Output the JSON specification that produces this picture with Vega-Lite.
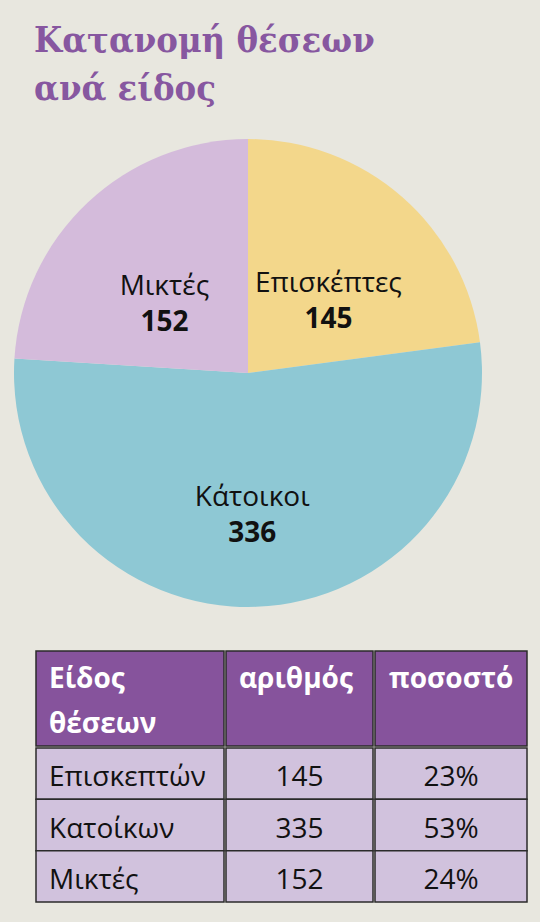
{
  "$schema": "https://vega.github.io/schema/vega-lite/v6.json",
  "background": "#E8E7DF",
  "padding": {"left": 0, "top": 23, "right": 18, "bottom": 24},
  "datasets": {
    "pie": [
      {"kind": "Επισκέπτες", "count": 145},
      {"kind": "Κάτοικοι", "count": 336},
      {"kind": "Μικτές", "count": 152}
    ],
    "rows": [
      {"row": 1, "name": "Επισκεπτών", "count": 145, "pct": "23%"},
      {"row": 2, "name": "Κατοίκων", "count": 335, "pct": "53%"},
      {"row": 3, "name": "Μικτές", "count": 152, "pct": "24%"}
    ],
    "header": [
      {"col": "kind", "label": "Είδος\nθέσεων"},
      {"col": "count", "label": "αριθμός"},
      {"col": "pct", "label": "ποσοστό"}
    ]
  },
  "title": {
    "text": ["Κατανομή θέσεων", "ανά είδος"],
    "anchor": "start",
    "dx": 34,
    "font": "DejaVu Serif Condensed",
    "fontSize": 36,
    "fontWeight": "bold",
    "color": "#8757A0",
    "lineHeight": 48,
    "offset": 31
  },
  "spacing": 43,
  "vconcat": [
    {
      "width": 496,
      "height": 468,
      "data": {"name": "pie"},
      "encoding": {
        "theta": {"field": "count", "type": "quantitative", "stack": true},
        "order": {"field": "kind", "type": "nominal"}
      },
      "layer": [
        {
          "mark": {"type": "arc", "outerRadius": 234},
          "encoding": {
            "color": {
              "field": "kind",
              "type": "nominal",
              "legend": null,
              "scale": {
                "domain": ["Επισκέπτες", "Κάτοικοι", "Μικτές"],
                "range": ["#F3D78B", "#8EC8D4", "#D4BBDB"]
              }
            }
          }
        },
        {
          "mark": {"type": "text", "radius": 122, "dy": 3, "font": "Open Sans", "fontSize": 28, "fill": "#111111"},
          "encoding": {
            "detail": {"field": "kind", "type": "nominal"},
            "text": {"field": "kind", "type": "nominal"}
          }
        },
        {
          "mark": {"type": "text", "radius": 122, "dy": 39, "font": "Open Sans", "fontSize": 28, "fontWeight": "bold", "fill": "#111111"},
          "encoding": {
            "detail": {"field": "kind", "type": "nominal"},
            "text": {"field": "count", "type": "quantitative"}
          }
        }
      ]
    },
    {
      "spacing": 0,
      "hconcat": [
        {
          "width": 35,
          "height": 1,
          "data": {"values": [{"a": 1}]},
          "mark": {"type": "rect", "opacity": 0}
        },
        {
          "spacing": 0,
          "vconcat": [
            {
              "width": 188,
              "height": 95,
              "data": {"name": "header"},
              "transform": [{"filter": "datum.col === 'kind'"}],
              "layer": [
                {"mark": {"type": "rect", "fill": "#86539C", "stroke": "#2B2B2B", "strokeWidth": 1.5}},
                {
                  "mark": {"type": "text", "align": "left", "baseline": "alphabetic", "dx": -81, "dy": -11, "lineBreak": "\n", "lineHeight": 45, "font": "Open Sans", "fontSize": 28, "fontWeight": "bold", "fill": "#FFFFFF"},
                  "encoding": {"text": {"field": "label", "type": "nominal"}}
                }
              ]
            },
            {
              "width": 188,
              "height": 154,
              "data": {"name": "rows"},
              "encoding": {
                "y": {"field": "row", "type": "ordinal", "axis": null, "scale": {"paddingInner": 0, "paddingOuter": 0}}
              },
              "layer": [
                {"mark": {"type": "rect", "fill": "#D1C2DD", "stroke": "#2B2B2B", "strokeWidth": 1.5}},
                {
                  "mark": {"type": "text", "align": "left", "baseline": "alphabetic", "dx": -81, "dy": 12.5, "font": "Open Sans", "fontSize": 28, "fill": "#111111"},
                  "encoding": {"text": {"field": "name", "type": "nominal"}}
                }
              ]
            }
          ]
        },
        {
          "spacing": 0,
          "vconcat": [
            {
              "width": 147,
              "height": 95,
              "data": {"name": "header"},
              "transform": [{"filter": "datum.col === 'count'"}],
              "layer": [
                {"mark": {"type": "rect", "fill": "#86539C", "stroke": "#2B2B2B", "strokeWidth": 1.5}},
                {
                  "mark": {"type": "text", "align": "left", "baseline": "alphabetic", "dx": -60.5, "dy": -11, "lineBreak": "\n", "lineHeight": 45, "font": "Open Sans", "fontSize": 28, "fontWeight": "bold", "fill": "#FFFFFF"},
                  "encoding": {"text": {"field": "label", "type": "nominal"}}
                }
              ]
            },
            {
              "width": 147,
              "height": 154,
              "data": {"name": "rows"},
              "encoding": {
                "y": {"field": "row", "type": "ordinal", "axis": null, "scale": {"paddingInner": 0, "paddingOuter": 0}}
              },
              "layer": [
                {"mark": {"type": "rect", "fill": "#D1C2DD", "stroke": "#2B2B2B", "strokeWidth": 1.5}},
                {
                  "mark": {"type": "text", "align": "center", "baseline": "alphabetic", "dy": 12.5, "font": "Open Sans", "fontSize": 28, "fill": "#111111"},
                  "encoding": {"text": {"field": "count", "type": "quantitative"}}
                }
              ]
            }
          ]
        },
        {
          "spacing": 0,
          "vconcat": [
            {
              "width": 152,
              "height": 95,
              "data": {"name": "header"},
              "transform": [{"filter": "datum.col === 'pct'"}],
              "layer": [
                {"mark": {"type": "rect", "fill": "#86539C", "stroke": "#2B2B2B", "strokeWidth": 1.5}},
                {
                  "mark": {"type": "text", "align": "left", "baseline": "alphabetic", "dx": -62, "dy": -11, "lineBreak": "\n", "lineHeight": 45, "font": "Open Sans", "fontSize": 28, "fontWeight": "bold", "fill": "#FFFFFF"},
                  "encoding": {"text": {"field": "label", "type": "nominal"}}
                }
              ]
            },
            {
              "width": 152,
              "height": 154,
              "data": {"name": "rows"},
              "encoding": {
                "y": {"field": "row", "type": "ordinal", "axis": null, "scale": {"paddingInner": 0, "paddingOuter": 0}}
              },
              "layer": [
                {"mark": {"type": "rect", "fill": "#D1C2DD", "stroke": "#2B2B2B", "strokeWidth": 1.5}},
                {
                  "mark": {"type": "text", "align": "center", "baseline": "alphabetic", "dy": 12.5, "font": "Open Sans", "fontSize": 28, "fill": "#111111"},
                  "encoding": {"text": {"field": "pct", "type": "nominal"}}
                }
              ]
            }
          ]
        }
      ]
    }
  ],
  "config": {"view": {"stroke": null}}
}
